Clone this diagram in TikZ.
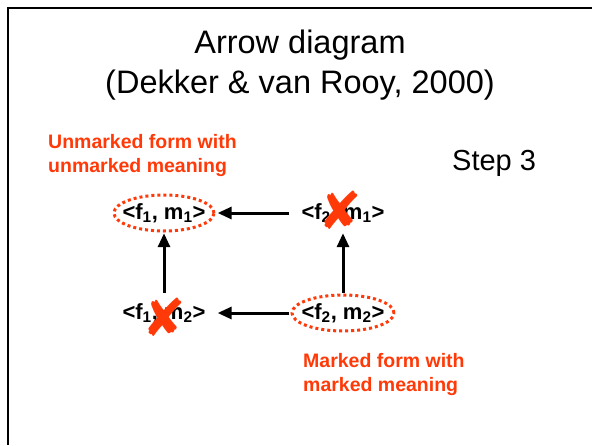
\documentclass[tikz,border=0pt]{standalone}
\usepackage{fontspec}
\setmainfont{Liberation Sans}
\newfontfamily\symbolfont{DejaVu Sans}
\usetikzlibrary{arrows.meta,positioning}
\definecolor{markred}{RGB}{255,58,8}
\newcommand{\lowidx}[1]{\textsubscript{#1}}

\begin{document}
\begin{tikzpicture}[
  x=1pt, y=-1pt,
  title/.style={font=\fontsize{32.5}{40}\selectfont, align=center, anchor=north, inner sep=0pt},
  pair/.style={font=\fontsize{22}{26}\selectfont\bfseries, inner xsep=12pt, minimum height=40pt},
  note/.style={font=\fontsize{19.5}{24}\selectfont\bfseries, text=markred, align=left, anchor=north west, inner sep=0pt},
  ring/.style={draw=markred, line width=3pt, dash pattern=on 3pt off 3pt},
  cross/.style={text=markred, inner sep=0pt, font=\symbolfont\fontsize{52}{52}\selectfont},
  arrow/.style={-{Triangle[length=14pt,width=12pt]}, line width=3pt},
  on grid
]
  \useasboundingbox (0,0) rectangle (592,445);
  \draw[line width=2.5pt] (8,445) -- (8,8) -- (592,8);

  % Heading
  \node[title] (head) at (300,30) {Arrow diagram\\(Dekker \& van Rooy, 2000)};
  \node[font=\fontsize{29}{34}\selectfont, anchor=base west, inner sep=0pt] (step) at (452,170) {Step 3};

  % Form-meaning pairs
  \node[pair] (f11) at (164,213) {<f\lowidx{1}, m\lowidx{1}>};
  \node[pair, right=179pt of f11] (f21) {<f\lowidx{2}, m\lowidx{1}>};
  \node[pair, below=100pt of f11] (f12) {<f\lowidx{1}, m\lowidx{2}>};
  \node[pair, right=179pt of f12] (f22) {<f\lowidx{2}, m\lowidx{2}>};

  % Arrows
  \draw[arrow] (f21) -- (f11);
  \draw[arrow] (f22) -- (f12);
  \draw[arrow] (f12) -- (f11);
  \draw[arrow] (f22) -- (f21);

  % Optimal pairs and blocked pairs
  \draw[ring] (f11) ellipse [x radius=50pt, y radius=18pt];
  \draw[ring] (f22) ellipse [x radius=51pt, y radius=18pt];
  \node[cross] (x21) at ([shift={(-3,-3)}]f21) {✘};
  \node[cross] (x12) at ([shift={(0,4)}]f12) {✘};

  % Labels
  \node[note] (unmarked) at (48,134) {Unmarked form with\\unmarked meaning};
  \node[note] (marked) at (303,353) {Marked form with\\marked meaning};
\end{tikzpicture}
\end{document}
